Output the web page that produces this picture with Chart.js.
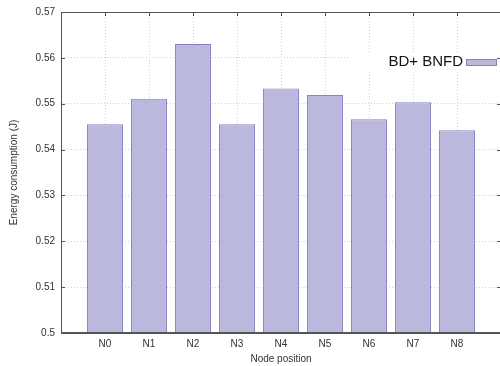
<!DOCTYPE html>
<html>
<head>
<meta charset="utf-8">
<script src="https://cdn.jsdelivr.net/npm/chart.js@4/dist/chart.umd.min.js"></script>
<style>
  html, body { margin: 0; padding: 0; background: #fff; width: 500px; height: 366px; overflow: hidden; }
  #wrap { position: absolute; left: 0; top: 0; width: 502px; height: 366px; }
</style>
</head>
<body>
<div id="wrap"><canvas id="c" width="502" height="366"></canvas></div>
<script>
const categories = ['N0', 'N1', 'N2', 'N3', 'N4', 'N5', 'N6', 'N7', 'N8'];
const energy = [0.5455, 0.5511, 0.5630, 0.5455, 0.5533, 0.5519, 0.5466, 0.5503, 0.5442];
const seriesLabel = 'BD+ BNFD';
const yMin = 0.5, yMax = 0.57, yStep = 0.01;
const xTitle = 'Node position';
const yTitle = 'Energy consumption (J)';

const FILL = 'rgb(187,184,222)';
const EDGE = 'rgb(135,130,192)';
const FONT = '"Liberation Sans", Arial, Helvetica, sans-serif';

const frame = {
  id: 'frame',
  afterDraw(chart) {
    const {ctx, chartArea: a, scales} = chart;
    ctx.save();
    // legend background
    ctx.fillStyle = '#fff';
    ctx.fillRect(350, 53, 152, 17);
    ctx.strokeStyle = '#555';
    ctx.lineWidth = 1;
    // frame
    ctx.strokeRect(a.left + 0.5, a.top + 0.5, a.right - a.left - 1, a.bottom - a.top - 1);
    // inward ticks
    ctx.beginPath();
    scales.y.ticks.forEach(t => {
      const y = Math.round(scales.y.getPixelForValue(t.value)) + 0.5;
      ctx.moveTo(a.left, y); ctx.lineTo(a.left + 4, y);
      ctx.moveTo(a.right, y); ctx.lineTo(a.right - 4, y);
    });
    categories.forEach((c, i) => {
      const x = Math.round(scales.x.getPixelForValue(i)) + 0.5;
      ctx.moveTo(x, a.top); ctx.lineTo(x, a.top + 4);
    });
    ctx.stroke();
    // legend text + swatch
    ctx.font = '15px ' + FONT;
    ctx.fillStyle = '#111';
    ctx.textAlign = 'right';
    ctx.textBaseline = 'middle';
    ctx.fillText(chart.data.datasets[0].label, 463, 62);
    ctx.fillStyle = FILL;
    ctx.fillRect(466, 59, 30, 6);
    ctx.strokeStyle = EDGE;
    ctx.strokeRect(466.5, 59.5, 30, 6);
    ctx.restore();
  }
};

new Chart(document.getElementById('c'), {
  type: 'bar',
  data: {
    datasets: [{
      label: seriesLabel,
      data: energy.map((v, i) => ({x: i, y: v})),
      backgroundColor: FILL,
      borderColor: EDGE,
      borderWidth: 1,
      borderSkipped: false,
      base: yMin,
      barPercentage: 0.82,
      categoryPercentage: 1
    }]
  },
  options: {
    responsive: false,
    animation: false,
    layout: { padding: { top: 12, right: 1, left: 0, bottom: 0 } },
    plugins: { legend: { display: false }, tooltip: { enabled: false } },
    scales: {
      x: {
        type: 'linear',
        offset: false,
        min: -1, max: 9,
        afterFit: s => { s.height = 33; s.paddingLeft = 0; s.paddingRight = 0; },
        ticks: {
          stepSize: 1, autoSkip: false, padding: 5, maxRotation: 0,
          font: { family: FONT, size: 10 }, color: '#333',
          callback: v => categories[v] || ''
        },
        grid: { color: '#d0d0d0', drawTicks: false, lineWidth: 1, offset: false },
        border: { color: '#555', dash: [1, 2] },
        title: { display: true, text: xTitle, font: { family: FONT, size: 10 }, color: '#333', padding: { top: 0, bottom: 1 } }
      },
      y: {
        min: yMin, max: yMax,
        afterFit: s => { s.width = 61; s.paddingTop = 0; s.paddingBottom = 0; },
        ticks: {
          stepSize: yStep, padding: 6,
          font: { family: FONT, size: 10 }, color: '#333',
          callback: v => String(Number(v.toFixed(2)))
        },
        grid: { color: '#d0d0d0', drawTicks: false, lineWidth: 1 },
        border: { color: '#555', dash: [1, 2] },
        title: { display: true, text: yTitle, font: { family: FONT, size: 10 }, color: '#333', padding: { top: 8, bottom: 0 } }
      }
    }
  },
  plugins: [frame]
});
</script>
</body>
</html>
